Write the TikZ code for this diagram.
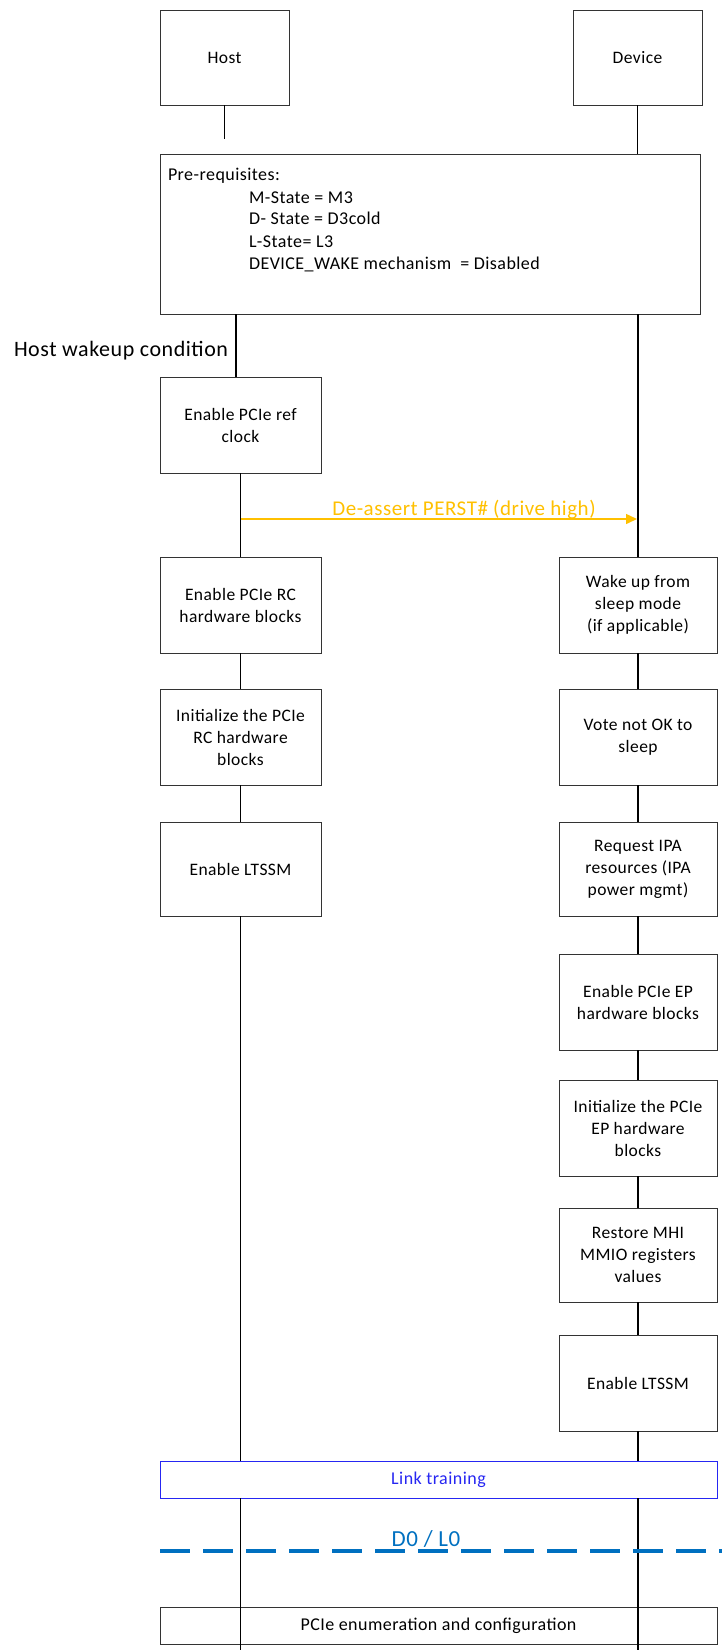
\documentclass[tikz,border=0pt]{standalone}
\usepackage{fontspec}
\setmainfont{Carlito}[LetterSpace=2.5]
\usetikzlibrary{arrows.meta}
\definecolor{perst}{HTML}{FFC000}
\definecolor{stateblue}{HTML}{0070C0}
\definecolor{linkblue}{HTML}{2626F2}
\definecolor{boxline}{HTML}{333333}
\begin{document}
\begin{tikzpicture}[x=1pt,y=-1pt,
  every node/.style={font=\fontsize{17.5}{22}\selectfont, inner sep=0pt, outer sep=0pt},
  stepbox/.style={draw=boxline, line width=0.9pt, fill=white, align=center, minimum height=96pt},
  hostbox/.style={stepbox, minimum width=161pt},
  devbox/.style={stepbox, minimum width=158pt},
  actor/.style={draw=boxline, line width=0.9pt, minimum width=129pt, minimum height=95pt},
  widebox/.style={line width=0.9pt, minimum width=557pt, minimum height=37pt, align=center},
  life/.style={line width=1.3pt, black},
  prel/.style={anchor=base west, font=\fontsize{18}{22}\selectfont}]
\useasboundingbox (0,0) rectangle (722,1650);

% actors
\node[actor] (host) at (224.5,57.5) {Host};
\node[actor] (dev) at (637.5,57.5) {Device};

% prerequisites
\node[draw=boxline, line width=0.9pt, minimum width=540pt, minimum height=160pt] (pre) at (430,234) {};
\node[prel] (p0) at (168,180) {Pre-requisites:};
\node[prel] (p1) at (249,203) {M-State = M3};
\node[prel] (p2) at (249,224) {D- State = D3cold};
\node[prel] (p3) at (249,247) {L-State= L3};
\node[prel] (p4) at (249,269) {DEVICE\_WAKE mechanism \ = Disabled};

\node[anchor=base west, font=\fontsize{22}{26}\selectfont] (wakecond) at (14,356) {Host wakeup condition};

% host steps
\node[hostbox] (refclk) at (240.5,425) {Enable PCIe ref\\clock};
\node[hostbox] (rcen) at (240.5,605) {Enable PCIe RC\\hardware blocks};
\node[hostbox] (rcinit) at (240.5,737) {Initialize the PCIe\\RC hardware\\blocks};
\node[hostbox, minimum height=94pt] (hltssm) at (240.5,869) {Enable LTSSM};

% device steps
\node[devbox] (wake) at (638,605) {Wake up from\\sleep mode\\(if applicable)};
\node[devbox] (vote) at (638,737) {Vote not OK to\\sleep};
\node[devbox, minimum height=94pt] (ipa) at (638,869) {Request IPA\\resources (IPA\\power mgmt)};
\node[devbox] (epen) at (638,1002) {Enable PCIe EP\\hardware blocks};
\node[devbox] (epinit) at (638,1128) {Initialize the PCIe\\EP hardware\\blocks};
\node[devbox, minimum height=94pt] (mhi) at (638,1255) {Restore MHI\\MMIO registers\\values};
\node[devbox] (dltssm) at (638,1383) {Enable LTSSM};

% wide boxes
\node[widebox, draw=linkblue, fill=white, text=linkblue, font=\fontsize{18}{22}\selectfont] (link) at (438.5,1479.5) {Link training};
\node[widebox, draw=boxline, font=\fontsize{18}{22}\selectfont] (enum) at (438.5,1625.5) {PCIe enumeration and configuration};

% coordinates
\coordinate (hstub) at (224.5,139);
\coordinate (h1) at (236,314);
\coordinate (h2) at (236,377);
\coordinate (hbot) at (240.5,1650);
\coordinate (dbot) at (638,1650);
\coordinate (arrS) at (241,519);
\coordinate (arrE) at (637,519);
\coordinate (dA) at (160,1551);
\coordinate (dB) at (722,1551);

% host lifeline
\draw[life] (host.south) -- (hstub);
\draw[life] (h1) -- (h2);
\draw[life] (refclk.south) -- (rcen.north);
\draw[life] (rcen.south) -- (rcinit.north);
\draw[life] (rcinit.south) -- (hltssm.north);
\draw[life] (hltssm.south) -- (hltssm.south |- link.north);
\draw[life] (hltssm.south |- link.south) -- (hbot);

% device lifeline
\draw[life] (dev.south) -- (dev.south |- pre.north);
\draw[life] (wake.north |- pre.south) -- (wake.north);
\draw[life] (wake.south) -- (vote.north);
\draw[life] (vote.south) -- (ipa.north);
\draw[life] (ipa.south) -- (epen.north);
\draw[life] (epen.south) -- (epinit.north);
\draw[life] (epinit.south) -- (mhi.north);
\draw[life] (mhi.south) -- (dltssm.north);
\draw[life] (dltssm.south) -- (dltssm.south |- link.north);
\draw[life] (dltssm.south |- link.south) -- (dbot);

% PERST arrow
\draw[perst, line width=1.5pt, -{Triangle[length=11pt,width=10pt]}] (arrS) -- (arrE);
\node[anchor=base, text=perst, font=\fontsize{21}{25}\selectfont] (perstlbl) at (464,515) {De-assert PERST\# (drive high)};

% D0/L0 state line
\draw[stateblue, line width=3.5pt, dash pattern=on 29.5pt off 13.5pt] (dA) -- (dB);
\node[anchor=base, text=stateblue, font=\fontsize{23}{27}\selectfont] (d0l0) at (426,1546) {D0 / L0};
\end{tikzpicture}
\end{document}
